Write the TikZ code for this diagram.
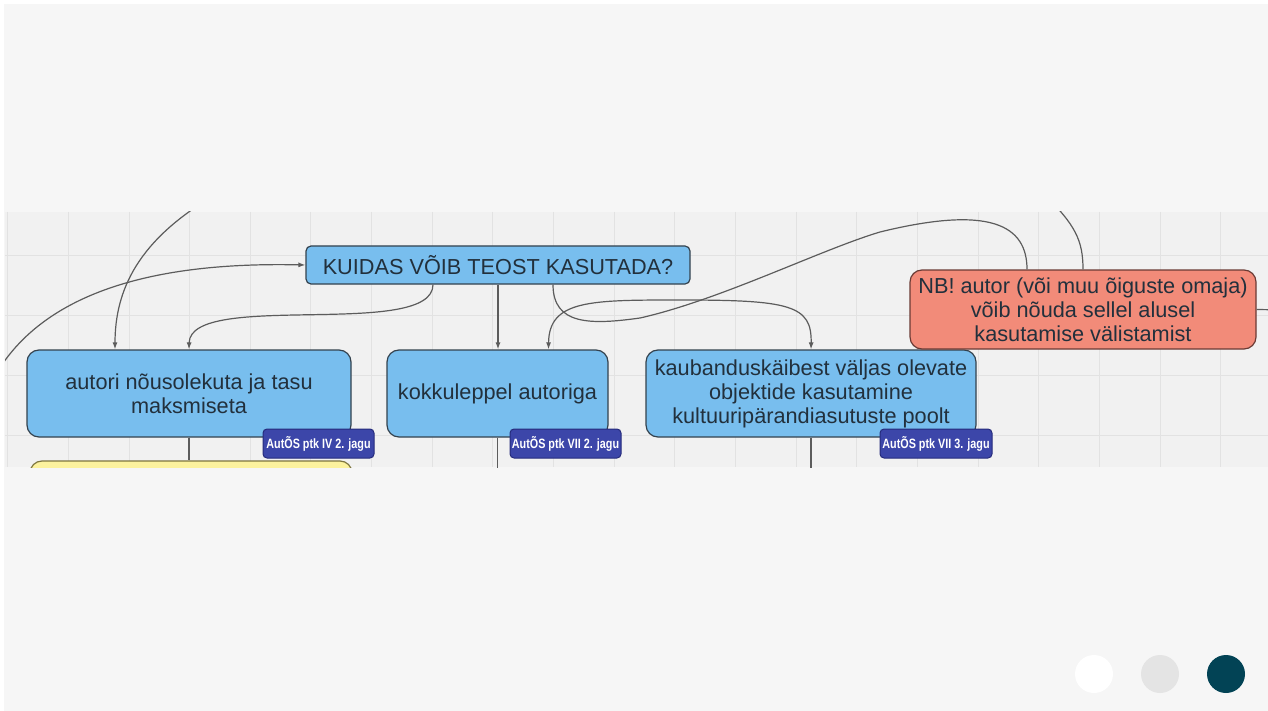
\documentclass[tikz,border=0pt]{standalone}
\usepackage{fontspec}
\setmainfont{Liberation Sans}
\usetikzlibrary{arrows.meta}
\definecolor{pagebg}{HTML}{F6F6F6}
\definecolor{bandbg}{HTML}{F1F1F1}
\definecolor{gridln}{HTML}{E2E2E2}
\definecolor{boxblue}{HTML}{78BEEE}
\definecolor{boxedge}{HTML}{34424E}
\definecolor{boxtext}{HTML}{22303C}
\definecolor{boxred}{HTML}{F28B79}
\definecolor{rededge}{HTML}{6A3B35}
\definecolor{boxyellow}{HTML}{FCF29E}
\definecolor{yellowedge}{HTML}{7E7640}
\definecolor{tagblue}{HTML}{3C46A9}
\definecolor{tagedge}{HTML}{252B7C}
\definecolor{linkgrey}{HTML}{5C5C5C}
\definecolor{dotgrey}{HTML}{E4E4E4}
\definecolor{dotteal}{HTML}{024355}
\def\bandtop{212}
\def\bandbot{467}
\def\gridstep{60.65}

\begin{document}
\begin{tikzpicture} [x = 1pt, y = -1pt,
    topic/.style = {draw = boxedge, line width = 1.2pt, fill = boxblue,
      text = boxtext, rounded corners = 12pt, inner sep = 0pt,
      align = center, font = \fontsize{21.7}{24}\selectfont},
    tagbox/.style = {draw = tagedge, line width = 1pt, fill = tagblue,
      text = white, rounded corners = 4pt, inner sep = 0pt,
      minimum height = 29pt, font = \fontsize{13.5}{15}\selectfont\bfseries},
    link/.style = {draw = linkgrey, line width = 1.2pt},
    linkarrow/.style = {link, -{Latex[length = 7pt, width = 5pt]}}]
    \useasboundingbox (0, 0) rectangle (1268, 711);
    \fill[white] (0, 0) rectangle (1268, 711);
    \fill[pagebg] (4, 4) rectangle (1268, 711);

    \begin{scope}
      \clip (5, \bandtop) rectangle (1268, \bandbot);
      \fill[bandbg] (5, \bandtop) rectangle (1268, \bandbot);
      \foreach \gx in {0, ..., 20}
        \draw[gridln] ({7.4 + \gridstep*\gx}, \bandtop) -- ++(0, 255);
      \foreach \gy in {255, 315, 375, 435}
        \draw[gridln] (5, \gy) -- (1268, \gy);

      \node[topic, rounded corners = 5pt, minimum width = 384pt,
        minimum height = 38pt] (kuidas) at (498, 265)
        {KUIDAS VÕIB TEOST KASUTADA?};
      \node[topic, minimum width = 324pt, minimum height = 87pt]
        (nousolek) at (189, 393.5) {autori nõusolekuta ja tasu\\maksmiseta};
      \node[topic, minimum width = 221pt, minimum height = 87pt]
        (kokkulep) at (497.5, 393.5) {kokkuleppel autoriga};
      \node[topic, minimum width = 330pt, minimum height = 87pt]
        (kaubandus) at (811, 393.5)
        {kaubanduskäibest väljas olevate\\objektide kasutamine\\kultuuripärandiasutuste poolt};
      \node[topic, draw = rededge, fill = boxred, minimum width = 346pt,
        minimum height = 79pt] (nb) at (1083, 309.5)
        {NB! autor (või muu õiguste omaja)\\võib nõuda sellel alusel\\kasutamise välistamist};
      \node[topic, draw = yellowedge, fill = boxyellow, minimum width = 322pt,
        minimum height = 78pt] (tasuta) at (191, 500) {};

      \coordinate (vasak) at (-10, 385);
      \coordinate (ulevas) at (215, 195);
      \coordinate (ulparem) at (1045, 195);
      \coordinate (parem) at (1290, 310);
      \coordinate (kokkalla) at ([yshift = -40pt]kokkulep.south);
      \coordinate (kauballa) at ([yshift = -40pt]kaubandus.south);

      \draw[linkarrow] (vasak) .. controls (40, 285) and (170, 262)
        .. (kuidas.west);
      \draw[linkarrow] (ulevas) .. controls (138, 240) and (115, 290)
        .. ([xshift = -74pt]nousolek.north);
      \draw[linkarrow] ([xshift = -65pt]kuidas.south)
        .. controls (433, 340) and (190, 290) .. (nousolek.north);
      \draw[linkarrow] (kuidas.south) -- (kuidas.south |- kokkulep.north);
      \draw[link] ([xshift = 55pt]kuidas.south)
        .. controls (553, 325) and (590, 325) .. (640, 318)
        .. controls (720, 300) and (820, 250) .. (880, 232)
        .. controls (990, 205) and (1027, 225) .. ([xshift = -56pt]nb.north);
      \draw[link, {Latex[length = 7pt, width = 5pt]}-{Latex[length = 7pt, width = 5pt]}]
        ([xshift = 51pt]kokkulep.north)
        .. controls (549, 300) and (590, 300) .. (680, 300)
        .. controls (790, 300) and (812, 305) .. (kaubandus.north);
      \draw[link] (ulparem) .. controls (1075, 225) and (1083, 240)
        .. (nb.north);
      \draw[link] (nb.east) -- (parem);
      \draw[link] (nousolek.south) -- (nousolek.south |- tasuta.north);
      \draw[link] (kokkulep.south) -- (kokkalla);
      \draw[link] (kaubandus.south) -- (kauballa);

      \node[tagbox, minimum width = 111pt] (tag1) at (318.5, 443.5)
        {\scalebox{0.8}[1]{AutÕS ptk IV 2. jagu}};
      \node[tagbox, minimum width = 111pt] (tag2) at (565.5, 443.5)
        {\scalebox{0.8}[1]{AutÕS ptk VII 2. jagu}};
      \node[tagbox, minimum width = 112pt] (tag3) at (936, 443.5)
        {\scalebox{0.8}[1]{AutÕS ptk VII 3. jagu}};
    \end{scope}

    \fill[white] (1094, 674) circle[radius = 19pt];
    \fill[dotgrey] (1160, 674) circle[radius = 19pt];
    \fill[dotteal] (1226, 674) circle[radius = 19pt];
  \end{tikzpicture}
\end{document}
